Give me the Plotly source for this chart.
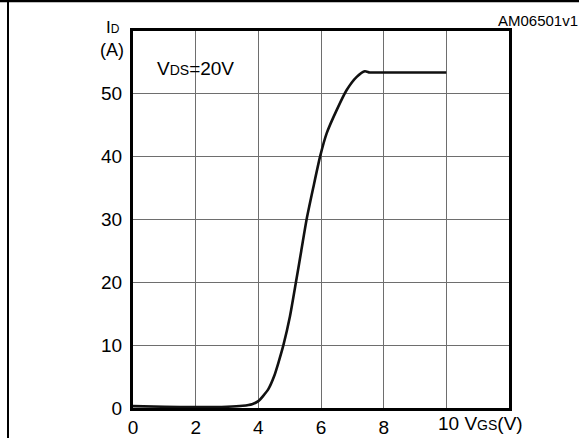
import plotly.graph_objects as go

# Transfer characteristic: ID vs VGS at VDS = 20 V
vgs = [0.0, 1.0, 2.0, 3.0, 3.5, 3.8, 4.0, 4.15, 4.32, 4.5, 4.64, 4.8, 5.01, 5.2, 5.37,
       5.54, 5.75, 5.97, 6.18, 6.5, 6.82, 7.14, 7.4, 7.55, 7.72, 8.5, 9.2, 10.0]
id_a = [0.3, 0.2, 0.15, 0.2, 0.35, 0.6, 1.1, 1.9, 3.0, 5.0, 7.2, 10.0, 14.6, 20.0, 25.0,
        30.0, 35.0, 40.0, 43.7, 47.4, 50.6, 52.7, 53.6, 53.4, 53.4, 53.4, 53.4, 53.4]

x_ticks = [0, 2, 4, 6, 8, 10]
x_ticktext = ["0", "2", "4", "6", "8", ""]
y_ticks = [0, 10, 20, 30, 40, 50]

FONT = "Liberation Sans, Arial, Helvetica, sans-serif"
FS = 19

fig = go.Figure()
fig.add_trace(go.Scatter(
    x=vgs, y=id_a, mode="lines",
    line=dict(color="#111111", width=2.6, shape="spline", smoothing=0.6),
    hoverinfo="skip", showlegend=False,
))

fig.update_layout(
    width=579, height=438,
    margin=dict(l=133, r=70, t=31, b=30),
    paper_bgcolor="white", plot_bgcolor="white",
    font=dict(family=FONT, size=FS, color="black"),
    xaxis=dict(
        range=[0, 12], tickvals=x_ticks, ticktext=x_ticktext,
        showgrid=True, gridcolor="#6e6e6e", gridwidth=1,
        showline=True, linecolor="black", linewidth=3, mirror=True,
        zeroline=False, ticks="", tickfont=dict(size=FS, family=FONT),
        ticklabelstandoff=0, automargin=False,
        fixedrange=True,
    ),
    yaxis=dict(
        range=[0, 60], tickvals=y_ticks,
        showgrid=True, gridcolor="#6e6e6e", gridwidth=1,
        showline=True, linecolor="black", linewidth=3, mirror=True,
        zeroline=False, ticks="", tickfont=dict(size=FS, family=FONT),
        ticklabelstandoff=4, automargin=False,
        fixedrange=True,
    ),
    annotations=[
        dict(xref="paper", yref="paper", x=(436 - 133) / 376, y=-(423 - 408) / 377,
             xanchor="left", yanchor="middle", showarrow=False,
             text='10 V<span style="font-size:14px">GS</span>(V)',
             font=dict(size=FS, family=FONT)),
        dict(xref="paper", yref="paper", x=(122 - 133) / 376, y=(408 - 28) / 377,
             xanchor="right", yanchor="middle", showarrow=False,
             text='I<span style="font-size:12px">D</span>',
             font=dict(size=17, family=FONT)),
        dict(xref="paper", yref="paper", x=(126 - 133) / 376, y=(408 - 50) / 377,
             xanchor="right", yanchor="middle", showarrow=False,
             text="(A)", font=dict(size=18, family=FONT)),
        dict(xref="paper", yref="paper", x=(155 - 133) / 376, y=(408 - 68) / 377,
             xanchor="left", yanchor="middle", showarrow=False,
             text='V<span style="font-size:14px">DS</span>=20V',
             font=dict(size=FS, family=FONT)),
        dict(xref="paper", yref="paper", x=(580 - 133) / 376, y=(408 - 20) / 377,
             xanchor="right", yanchor="middle", showarrow=False,
             text="AM06501v1", font=dict(size=15, family=FONT)),
    ],
    shapes=[
        dict(type="line", xref="paper", yref="paper",
             x0=-133 / 376, x1=(579 - 133) / 376,
             y0=(408 - 1) / 377, y1=(408 - 1) / 377,
             line=dict(color="black", width=2.5)),
        dict(type="line", xref="paper", yref="paper",
             x0=(8 - 133) / 376, x1=(8 - 133) / 376,
             y0=(408 - 0) / 377, y1=-(438 - 408) / 377,
             line=dict(color="black", width=2)),
    ],
)

fig.write_html("out.html")
